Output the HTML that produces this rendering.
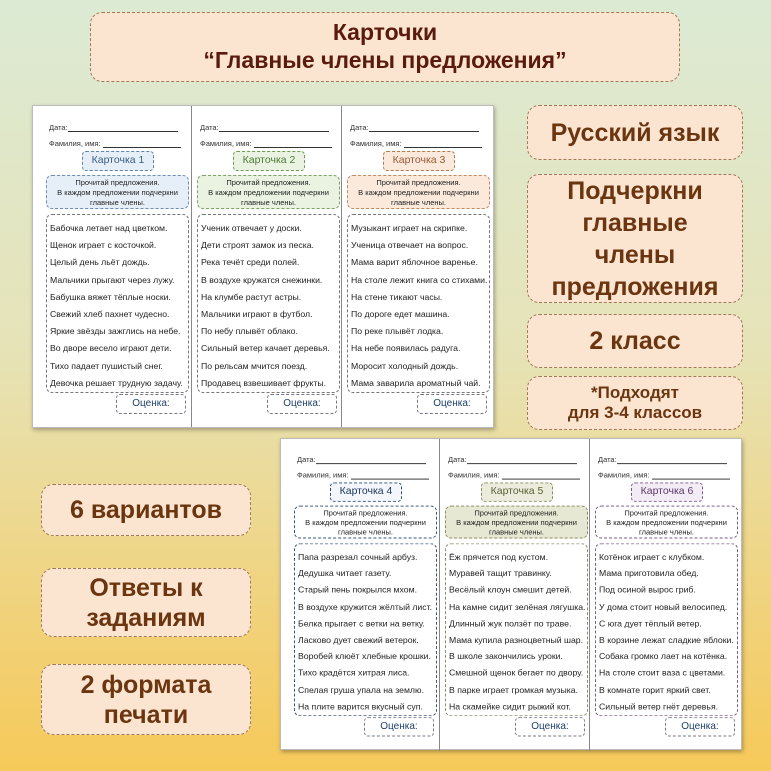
<!DOCTYPE html>
<html><head><meta charset="utf-8"><style>
*{box-sizing:border-box;margin:0;padding:0}
body{width:771px;height:771px;overflow:hidden;position:relative;font-family:"Liberation Sans","DejaVu Sans",sans-serif;background:linear-gradient(180deg,#dcead4 0%,#e6e3b8 45%,#f1d27a 80%,#f6c95a 100%)}
.lb{position:absolute;background:#fbe5d1;border:1.5px dashed #a07a55;border-radius:12px;color:#6b3510;font-weight:bold;text-align:center;display:flex;align-items:center;justify-content:center;line-height:1.2}
.sheet{position:absolute;width:462px;background:#fff;border:1px solid #bbb;box-shadow:1px 2px 4px rgba(0,0,0,.3);font-family:"Liberation Sans","DejaVu Sans",sans-serif}
.col{position:absolute;top:0;width:150px;height:100%;font-size:8px;color:#222}
.col.b{border-left:1px solid #888}
.ln{position:absolute;left:8px;font-size:7.5px;color:#333}
.ln span{display:inline-block;border-bottom:1px solid #333;vertical-align:bottom}
.card{position:absolute;left:41px;width:72px;height:20px;border:1.2px dashed;border-radius:4px;font-size:10.5px;text-align:center;line-height:17px}
.ins{position:absolute;left:5px;width:143px;height:34px;border:1.2px dashed;border-radius:6px;font-size:7.5px;text-align:center;line-height:10px;padding-top:2px;color:#222}
.sen{position:absolute;left:5px;width:143px;height:179px;border:1.2px dashed #777;border-radius:6px;padding:5px 0 0 3px;font-size:8.7px;line-height:17.2px;white-space:nowrap;overflow:hidden;color:#222}
.oc{position:absolute;left:75px;width:70px;height:20px;border:1.2px dashed #778;border-radius:4px;font-size:10px;text-align:center;line-height:17px;color:#1d3e6a}
</style></head><body>

<div class="lb" style="left:90px;top:12px;width:590px;height:70px;font-size:23px;color:#5a1a0d;line-height:1.2">Карточки<br>“Главные члены предложения”</div>

<div class="lb" style="left:527px;top:105px;width:216px;height:55px;font-size:25px">Русский язык</div>
<div class="lb" style="left:527px;top:174px;width:216px;height:129px;font-size:25px;line-height:1.28">Подчеркни<br>главные<br>члены<br>предложения</div>
<div class="lb" style="left:527px;top:314px;width:216px;height:54px;font-size:25px">2 класс</div>
<div class="lb" style="left:527px;top:376px;width:216px;height:54px;font-size:17px">*Подходят<br>для 3-4 классов</div>

<div class="lb" style="left:41px;top:484px;width:210px;height:52px;font-size:25px">6 вариантов</div>
<div class="lb" style="left:41px;top:568px;width:210px;height:69px;font-size:25px">Ответы к<br>заданиям</div>
<div class="lb" style="left:41px;top:664px;width:210px;height:71px;font-size:25px">2 формата<br>печати</div>

<!-- sheet 1 -->
<div class="sheet" style="left:32px;top:105px;height:323px">
 <div class="col" style="left:8px">
  <div class="ln" style="top:17px">Дата:<span style="width:110px"></span></div>
  <div class="ln" style="top:33px">Фамилия, имя: <span style="width:78px"></span></div>
  <div class="card" style="top:45px;background:#e6eff8;border-color:#5f84a6;color:#3b5f80">Карточка 1</div>
  <div class="ins" style="top:69px;background:#e6eff8;border-color:#6f8fae">Прочитай предложения.<br>В каждом предложении подчеркни<br>главные члены.</div>
  <div class="sen" style="top:108px">Бабочка летает над цветком.<br>Щенок играет с косточкой.<br>Целый день льёт дождь.<br>Мальчики прыгают через лужу.<br>Бабушка вяжет тёплые носки.<br>Свежий хлеб пахнет чудесно.<br>Яркие звёзды зажглись на небе.<br>Во дворе весело играют дети.<br>Тихо падает пушистый снег.<br>Девочка решает трудную задачу.</div>
  <div class="oc" style="top:288px">Оценка:</div>
 </div>
 <div class="col b" style="left:158px">
  <div class="ln" style="top:17px">Дата:<span style="width:110px"></span></div>
  <div class="ln" style="top:33px">Фамилия, имя: <span style="width:78px"></span></div>
  <div class="card" style="top:45px;background:#eaf3e2;border-color:#6e9a55;color:#4d7a35">Карточка 2</div>
  <div class="ins" style="top:69px;background:#eaf3e2;border-color:#7ea265">Прочитай предложения.<br>В каждом предложении подчеркни<br>главные члены.</div>
  <div class="sen" style="top:108px">Ученик отвечает у доски.<br>Дети строят замок из песка.<br>Река течёт среди полей.<br>В воздухе кружатся снежинки.<br>На клумбе растут астры.<br>Мальчики играют в футбол.<br>По небу плывёт облако.<br>Сильный ветер качает деревья.<br>По рельсам мчится поезд.<br>Продавец взвешивает фрукты.</div>
  <div class="oc" style="top:288px">Оценка:</div>
 </div>
 <div class="col b" style="left:308px">
  <div class="ln" style="top:17px">Дата:<span style="width:110px"></span></div>
  <div class="ln" style="top:33px">Фамилия, имя: <span style="width:78px"></span></div>
  <div class="card" style="top:45px;background:#fbe9dc;border-color:#b07a55;color:#9a5a35">Карточка 3</div>
  <div class="ins" style="top:69px;background:#fbe9dc;border-color:#c08a65">Прочитай предложения.<br>В каждом предложении подчеркни<br>главные члены.</div>
  <div class="sen" style="top:108px">Музыкант играет на скрипке.<br>Ученица отвечает на вопрос.<br>Мама варит яблочное варенье.<br>На столе лежит книга со стихами.<br>На стене тикают часы.<br>По дороге едет машина.<br>По реке плывёт лодка.<br>На небе появилась радуга.<br>Моросит холодный дождь.<br>Мама заварила ароматный чай.</div>
  <div class="oc" style="top:288px">Оценка:</div>
 </div>
</div>

<!-- sheet 2 -->
<div class="sheet" style="left:280px;top:438px;height:312px">
 <div style="position:absolute;left:0;top:0;width:462px;height:323px;transform:scaleY(0.966);transform-origin:0 0">
 <div class="col" style="left:8px">
  <div class="ln" style="top:17px">Дата:<span style="width:110px"></span></div>
  <div class="ln" style="top:33px">Фамилия, имя: <span style="width:78px"></span></div>
  <div class="card" style="top:45px;background:#f3f6fb;border-color:#2f4a6e;color:#1f3a60">Карточка 4</div>
  <div class="ins" style="top:69px;background:#fff;border-color:#3a5478">Прочитай предложения.<br>В каждом предложении подчеркни<br>главные члены.</div>
  <div class="sen" style="top:108px;border-color:#3a5478">Папа разрезал сочный арбуз.<br>Дедушка читает газету.<br>Старый пень покрылся мхом.<br>В воздухе кружится жёлтый лист.<br>Белка прыгает с ветки на ветку.<br>Ласково дует свежий ветерок.<br>Воробей клюёт хлебные крошки.<br>Тихо крадётся хитрая лиса.<br>Спелая груша упала на землю.<br>На плите варится вкусный суп.</div>
  <div class="oc" style="top:288px">Оценка:</div>
 </div>
 <div class="col b" style="left:158px">
  <div class="ln" style="top:17px">Дата:<span style="width:110px"></span></div>
  <div class="ln" style="top:33px">Фамилия, имя: <span style="width:78px"></span></div>
  <div class="card" style="top:45px;background:#ebecdc;border-color:#8a8c62;color:#5e6038">Карточка 5</div>
  <div class="ins" style="top:69px;background:#e7e8d3;border-color:#8a8c62">Прочитай предложения.<br>В каждом предложении подчеркни<br>главные члены.</div>
  <div class="sen" style="top:108px;border-color:#8a8c62">Ёж прячется под кустом.<br>Муравей тащит травинку.<br>Весёлый клоун смешит детей.<br>На камне сидит зелёная лягушка.<br>Длинный жук ползёт по траве.<br>Мама купила разноцветный шар.<br>В школе закончились уроки.<br>Смешной щенок бегает по двору.<br>В парке играет громкая музыка.<br>На скамейке сидит рыжий кот.</div>
  <div class="oc" style="top:288px">Оценка:</div>
 </div>
 <div class="col b" style="left:308px">
  <div class="ln" style="top:17px">Дата:<span style="width:110px"></span></div>
  <div class="ln" style="top:33px">Фамилия, имя: <span style="width:78px"></span></div>
  <div class="card" style="top:45px;background:#f3ecf5;border-color:#7a5a8a;color:#5a3a6a">Карточка 6</div>
  <div class="ins" style="top:69px;background:#fff;border-color:#7a5a8a">Прочитай предложения.<br>В каждом предложении подчеркни<br>главные члены.</div>
  <div class="sen" style="top:108px;border-color:#7a5a8a">Котёнок играет с клубком.<br>Мама приготовила обед.<br>Под осиной вырос гриб.<br>У дома стоит новый велосипед.<br>С юга дует тёплый ветер.<br>В корзине лежат сладкие яблоки.<br>Собака громко лает на котёнка.<br>На столе стоит ваза с цветами.<br>В комнате горит яркий свет.<br>Сильный ветер гнёт деревья.</div>
  <div class="oc" style="top:288px">Оценка:</div>
 </div>
 </div>
</div>
</body></html>
